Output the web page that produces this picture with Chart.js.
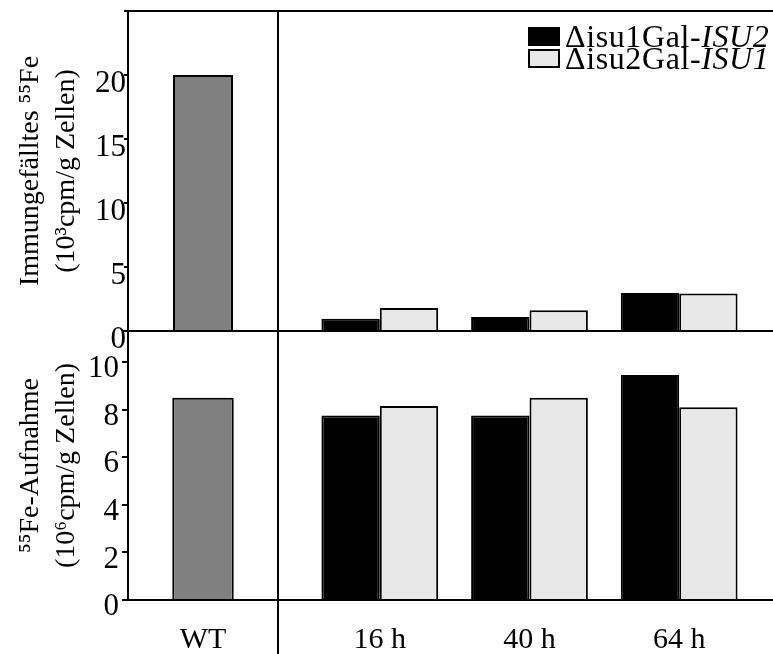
<!DOCTYPE html>
<html>
<head>
<meta charset="utf-8">
<script src="https://cdn.jsdelivr.net/npm/chart.js@4.4.1/dist/chart.umd.min.js"></script>
<style>
  html, body { margin: 0; padding: 0; background: #fff; overflow: hidden; }
  #page { position: relative; width: 773px; height: 654px; }
  .panel { position: absolute; }
  #legend { position: absolute; left: 528px; top: 25px; font-family: "Liberation Serif", serif; font-size: 32px; letter-spacing: 0.6px; color: #000; }
  .item { display: flex; align-items: center; height: 22px; line-height: 22px; }
  .box { display: inline-block; width: 28px; height: 15px; border: 2px solid #000; margin-right: 5px; }
</style>
</head>
<body>
<div id="page">
  <div class="panel" style="left:0;top:0;width:280px;height:350px"><canvas id="topLeft"></canvas></div>
  <div class="panel" style="left:278px;top:0;width:497px;height:350px"><canvas id="topRight"></canvas></div>
  <div class="panel" style="left:0;top:321px;width:280px;height:333px"><canvas id="botLeft"></canvas></div>
  <div class="panel" style="left:278px;top:321px;width:497px;height:333px"><canvas id="botRight"></canvas></div>
  <div id="legend"></div>
</div>
<script>
// values
const wtLabel = ['WT'];
const timeLabels = ['16 h', '40 h', '64 h'];
const seriesNames = ['Δisu1Gal-ISU2', 'Δisu2Gal-ISU1'];

const wtImmun = [20.0];
const isu1Immun = [0.95, 1.10, 2.97];
const isu2Immun = [1.80, 1.62, 2.92];

const wtUptake = [8.5];
const isu1Uptake = [7.75, 7.75, 9.45];
const isu2Uptake = [8.15, 8.5, 8.1];

const yTopTicks = [0, 5, 10, 15, 20];
const yTopMax = 25;
const yBotTicks = [0, 2, 4, 6, 8, 10];
const yBotMax = 11.3;

const wtColor = '#808080';
const seriesColors = ['#000000', '#e8e8e8'];

// x range of the right panels (time points sit at 1, 2, 3)
const xMin = 0.32, xMax = 3.64;

Chart.defaults.font.family = 'Liberation Serif';
Chart.defaults.color = '#000';
Chart.defaults.animation = false;

// draws the box around each panel (like the chartAreaBorder sample)
const frame = {
  id: 'frame',
  afterDatasetsDraw(chart, args, opts) {
    const { ctx, chartArea: a } = chart;
    ctx.save();
    ctx.strokeStyle = '#000';
    ctx.lineWidth = 2;
    ctx.strokeRect(a.left, a.top, a.right - a.left, a.bottom - a.top);
    if (opts.extendRight) {
      ctx.beginPath();
      ctx.moveTo(a.right, a.bottom);
      ctx.lineTo(a.right, chart.height);
      ctx.stroke();
    }
    ctx.restore();
  }
};

function leftAxis(ticks, max, title, tickLen, pad, offset) {
  return {
    min: 0,
    max: max,
    afterBuildTicks: axis => { axis.ticks = ticks.concat(max).map(v => ({ value: v })); },
    afterFit: axis => {
      axis.width = 128;
      // panels must meet exactly, so no room is kept for label overhang
      axis.paddingTop = 0;
      axis.paddingBottom = 0;
    },
    ticks: {
      font: { size: 31 },
      padding: pad,
      labelOffset: offset,
      callback: v => ticks.includes(v) ? v : ''
    },
    grid: { drawOnChartArea: false, color: '#000', lineWidth: 2, tickLength: tickLen },
    border: { display: false },
    title: {
      display: true,
      text: title,
      font: { size: 28, lineHeight: 1.3 },
      padding: { top: 12, bottom: 0 }
    }
  };
}

function timeAxis(show) {
  return {
    type: 'linear',
    display: show,
    offset: false,
    min: xMin,
    max: xMax,
    afterBuildTicks: axis => { axis.ticks = timeLabels.map((_, i) => ({ value: i + 1 })); },
    afterFit: axis => { axis.height = show ? 54 : 0; },
    ticks: { font: { size: 30 }, padding: 22, callback: v => timeLabels[v - 1] },
    grid: { display: false, drawTicks: false },
    border: { display: false }
  };
}

function pts(vals) {
  return vals.map((v, i) => ({ x: i + 1, y: v }));
}

function seriesSets(a, b) {
  return [a, b].map((vals, i) => ({
    label: seriesNames[i],
    data: pts(vals),
    backgroundColor: seriesColors[i],
    borderColor: '#000',
    borderWidth: 2,
    categoryPercentage: 0.78,
    barPercentage: 1
  }));
}

const basePlugins = { legend: { display: false }, tooltip: { enabled: false } };

// top left: WT immunoprecipitated
new Chart(document.getElementById('topLeft'), {
  type: 'bar',
  data: {
    labels: wtLabel,
    datasets: [{ data: wtImmun, backgroundColor: wtColor, borderColor: '#000', borderWidth: 2, categoryPercentage: 0.4, barPercentage: 1 }]
  },
  options: {
    responsive: true,
    maintainAspectRatio: false,
    layout: { padding: { top: 11, bottom: 19, left: 0, right: 2 } },
    scales: {
      x: { display: false },
      y: leftAxis(yTopTicks, yTopMax, ['Immungefälltes ⁵⁵Fe', '(10³cpm/g Zellen)'], 4, -2, 9)
    },
    plugins: { ...basePlugins, frame: {} }
  },
  plugins: [frame]
});

// top right: mutants immunoprecipitated
new Chart(document.getElementById('topRight'), {
  type: 'bar',
  data: { datasets: seriesSets(isu1Immun, isu2Immun) },
  options: {
    responsive: true,
    maintainAspectRatio: false,
    layout: { padding: { top: 11, bottom: 19, left: 0, right: 0 } },
    scales: {
      x: timeAxis(false),
      y: { display: false, min: 0, max: yTopMax }
    },
    plugins: { ...basePlugins, frame: {} }
  },
  plugins: [frame]
});

// bottom left: WT uptake
new Chart(document.getElementById('botLeft'), {
  type: 'bar',
  data: {
    labels: wtLabel,
    datasets: [{ data: wtUptake, backgroundColor: wtColor, borderColor: '#000', borderWidth: 2, categoryPercentage: 0.41, barPercentage: 1 }]
  },
  options: {
    responsive: true,
    maintainAspectRatio: false,
    layout: { padding: { top: 10, bottom: 0, left: 0, right: 2 } },
    scales: {
      x: {
        afterFit: axis => { axis.height = 54; },
        ticks: { font: { size: 30 }, padding: 22 },
        grid: { display: false, drawTicks: false },
        border: { display: false }
      },
      y: leftAxis(yBotTicks, yBotMax, ['⁵⁵Fe-Aufnahme', '(10⁶cpm/g Zellen)'], 6, 3, 7)
    },
    plugins: { ...basePlugins, frame: { extendRight: true } }
  },
  plugins: [frame]
});

// bottom right: mutants uptake
new Chart(document.getElementById('botRight'), {
  type: 'bar',
  data: { datasets: seriesSets(isu1Uptake, isu2Uptake) },
  options: {
    responsive: true,
    maintainAspectRatio: false,
    layout: { padding: { top: 10, bottom: 0, left: 0, right: 0 } },
    scales: {
      x: timeAxis(true),
      y: { display: false, min: 0, max: yBotMax }
    },
    plugins: { ...basePlugins, frame: {} }
  },
  plugins: [frame]
});

// legend in the upper right panel
const legend = document.getElementById('legend');
seriesNames.forEach((name, i) => {
  const cut = name.indexOf('-') + 1;
  legend.insertAdjacentHTML('beforeend',
    '<div class="item"><span class="box" style="background:' + seriesColors[i] + '"></span>' +
    '<span>' + name.slice(0, cut) + '<i>' + name.slice(cut) + '</i></span></div>');
});
</script>
</body>
</html>
